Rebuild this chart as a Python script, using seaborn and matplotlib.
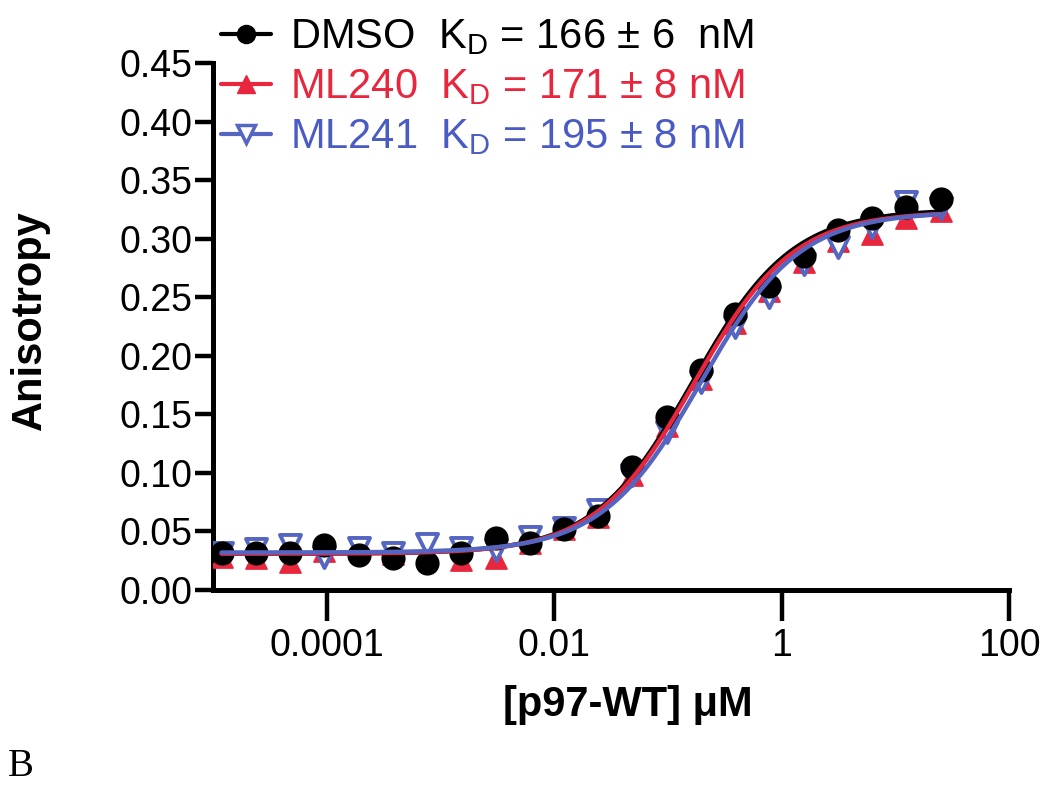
import numpy as np
import pandas as pd
import matplotlib
matplotlib.use("Agg")
import matplotlib.pyplot as plt
from matplotlib.lines import Line2D
from matplotlib.ticker import FixedLocator, FixedFormatter, NullLocator
import seaborn as sns

# [p97-WT] in uM (2-fold dilution series, low -> high)
conc_um = [1.19e-5, 2.38e-5, 4.77e-5, 9.54e-5, 1.91e-4, 3.81e-4, 7.63e-4,
           1.53e-3, 3.05e-3, 6.10e-3, 0.0122, 0.0244, 0.0488, 0.0977,
           0.195, 0.391, 0.781, 1.5625, 3.125, 6.25, 12.5, 25.0]

# anisotropy
dmso = [0.032, 0.032, 0.032, 0.038, 0.030, 0.027, 0.023, 0.032, 0.044, 0.040, 0.052,
        0.063, 0.105, 0.148, 0.188, 0.236, 0.260, 0.285, 0.307, 0.318, 0.327, 0.334]
ml240 = [0.028, 0.027, 0.024, 0.033, 0.036, 0.031, 0.032, 0.026, 0.027, 0.040, 0.052,
         0.062, 0.098, 0.140, 0.180, 0.228, 0.255, 0.280, 0.298, 0.304, 0.318, 0.324]
ml241 = [0.032, 0.035, 0.038, 0.028, 0.036, 0.032, 0.039, 0.036, 0.034, 0.045, 0.053,
         0.068, 0.098, 0.135, 0.178, 0.225, 0.250, 0.278, 0.293, 0.310, 0.331, 0.326]

names = ["DMSO", "ML240", "ML241"]
kd_nM = [166, 171, 195]
kd_err = [6, 8, 8]
fit_bottom = [0.031, 0.031, 0.032]
fit_top = [0.325, 0.323, 0.323]

colors = ["black", "#e8263d", "#5565c2"]
text_colors = ["black", "#e8263d", "#4a5cc4"]

df = pd.DataFrame({"conc": conc_um * 3,
                   "aniso": dmso + ml240 + ml241,
                   "cond": sum([[n] * len(conc_um) for n in names], [])})

sns.set_style("ticks")
plt.rcParams['font.family'] = ['Liberation Sans', 'DejaVu Sans']
plt.rcParams['mathtext.fontset'] = 'custom'
plt.rcParams['mathtext.rm'] = 'Liberation Sans'
for k in ["text.color", "axes.labelcolor", "xtick.color", "ytick.color", "axes.edgecolor"]:
    plt.rcParams[k] = "black"

fig = plt.figure(figsize=(10.5, 7.9), dpi=100)
ax = fig.add_axes([213 / 1050, 1 - 590 / 790, (1009 - 213) / 1050, (590 - 63) / 790])

# single-site binding fits using the KD values shown
xfit = np.logspace(np.log10(conc_um[0]), np.log10(conc_um[-1]), 300)
for i, n in enumerate(names):
    kd = kd_nM[i] / 1000.0
    yfit = fit_bottom[i] + (fit_top[i] - fit_bottom[i]) * xfit / (kd + xfit)
    sns.lineplot(x=xfit, y=yfit, color=colors[i], lw=3.2, ax=ax, zorder=5)

sns.scatterplot(data=df[df.cond == "ML240"], x="conc", y="aniso", marker="^", s=230,
                color=colors[1], edgecolor=colors[1], ax=ax, zorder=3, legend=False)
sns.scatterplot(data=df[df.cond == "ML241"], x="conc", y="aniso", marker="v", s=230,
                facecolor="white", edgecolor=colors[2], linewidth=2.8, ax=ax, zorder=3, legend=False)
sns.scatterplot(data=df[df.cond == "DMSO"], x="conc", y="aniso", marker="o", s=260,
                color="black", edgecolor="black", ax=ax, zorder=4, legend=False)

ax.set_xscale("log")
ax.set_xlim(1e-5, 100)
ax.set_ylim(0, 0.45)
ax.xaxis.set_major_locator(FixedLocator([1e-4, 1e-2, 1, 100]))
ax.xaxis.set_major_formatter(FixedFormatter(["0.0001", "0.01", "1", "100"]))
ax.xaxis.set_minor_locator(NullLocator())
ax.set_yticks(np.arange(0, 0.451, 0.05))
ax.set_yticklabels([f"{v:.2f}" for v in np.arange(0, 0.451, 0.05)])
ax.tick_params(axis="x", length=22, width=3.2, pad=5, labelsize=27)
ax.tick_params(axis="y", length=13, width=3.2, pad=2, labelsize=27)
sns.despine(ax=ax)
for s in ["left", "bottom"]:
    ax.spines[s].set_linewidth(3.6)
ax.set_xlabel("")
ax.set_ylabel("")

fig.text(30 / 1050, 1 - 320 / 790, "Anisotropy", rotation=90, ha="center", va="center",
         fontsize=30, fontweight="bold")
fig.text(628 / 1050, 1 - 705 / 790, "[p97-WT] \u03bcM", ha="center", va="center",
         fontsize=30, fontweight="bold")
fig.text(8 / 1050, 1 - 785 / 790, "B", ha="left", va="bottom", fontsize=28,
         family="Liberation Serif")

handles = [Line2D([], [], color=colors[0], lw=3, marker="o", ms=13),
           Line2D([], [], color=colors[1], lw=3, marker="^", ms=13),
           Line2D([], [], color=colors[2], lw=3, marker="v", ms=13, mfc="white", mew=2.5)]
labels = ["DMSO  K$_\\mathrm{D}$ = 166 \u00b1 6  nM",
          f"ML240  K$_\\mathrm{{D}}$ = {kd_nM[1]} \u00b1 {kd_err[1]} nM",
          f"ML241  K$_\\mathrm{{D}}$ = {kd_nM[2]} \u00b1 {kd_err[2]} nM"]
leg = fig.legend(handles, labels, loc="upper left", bbox_to_anchor=(192 / 1050, 1 + 12 / 790),
                 frameon=False, fontsize=30, handlelength=1.2, handletextpad=0.45,
                 labelspacing=0.24, borderpad=0.2)
for t, c in zip(leg.get_texts(), text_colors):
    t.set_color(c)

fig.savefig("out.png", dpi=100)
